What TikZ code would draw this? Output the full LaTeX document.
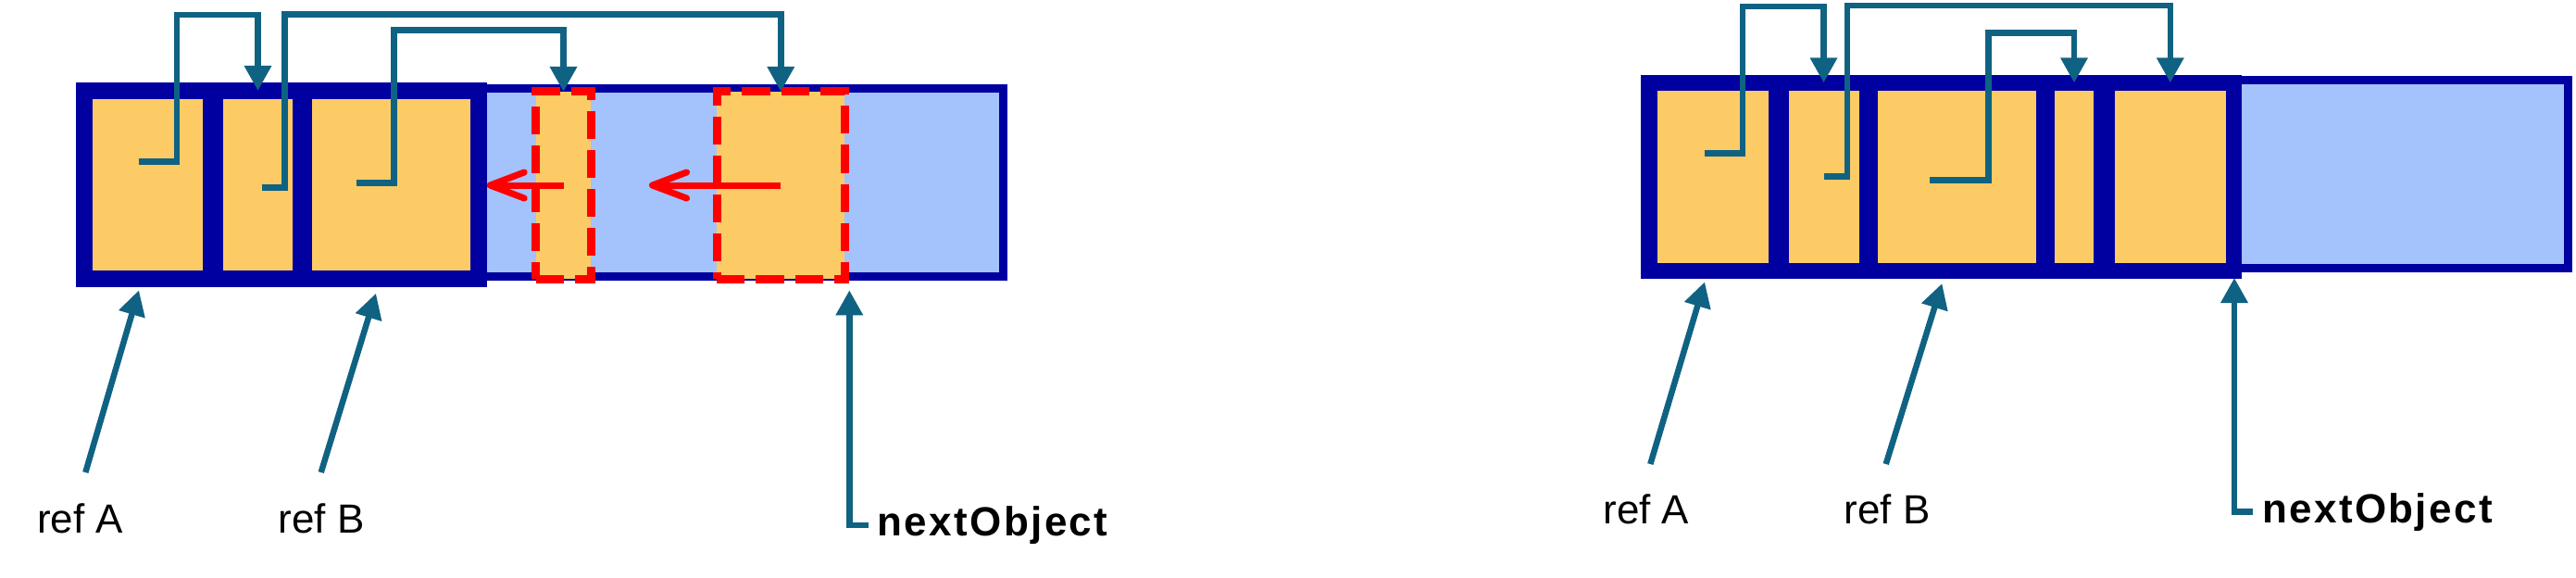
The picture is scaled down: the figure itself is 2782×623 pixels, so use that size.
\documentclass[tikz,border=0pt]{standalone}
\usepackage{fontspec}
\setmainfont{Liberation Sans}
\newfontfamily\nextfont[LetterSpace=5.5]{Liberation Sans}
\usetikzlibrary{arrows.meta,positioning,calc}
\definecolor{objline}{RGB}{0,0,160}
\definecolor{objfill}{RGB}{252,203,102}
\definecolor{heapfill}{RGB}{164,194,252}
\definecolor{refcol}{RGB}{16,98,130}
\tikzset{
  heap/.style={draw=objline,fill=heapfill,line width=0.09cm,minimum width=9.92cm,minimum height=2.035cm,inner sep=0pt,outer sep=0pt},
  obj/.style={draw=objline,fill=objfill,line width=0.175cm,minimum height=2.03cm,inner sep=0pt,outer sep=0pt},
  moved/.style={draw=red,fill=objfill,line width=0.09cm,dash pattern=on 0.3cm off 0.12cm,minimum height=2.02cm,inner sep=0pt,outer sep=0pt},
  refptr/.style={draw=refcol,line width=0.065cm,-{Triangle[length=0.27cm,width=0.28cm]}},
  slide/.style={draw=red,line width=0.07cm,-{Straight Barb[length=0.37cm,width=0.28cm,round]}},
  lbl/.style={anchor=base west,inner sep=0pt,font=\fontsize{12.5pt}{15pt}\selectfont},
  nextlbl/.style={lbl,inner xsep=0.09cm,font=\fontsize{12.5pt}{15pt}\nextfont\bfseries}
}
\begin{document}
\begin{tikzpicture}[x=0.01cm,y=-0.01cm]
  \useasboundingbox (0,0) rectangle (2782,623);
  % before compaction
  \node[heap] (heapL) at (586.75,197) {};
  \node[obj,minimum width=1.37cm] (a1) at (159.5,199.5) {};
  \node[obj,minimum width=0.93cm] (a2) at (278.5,199.5) {};
  \node[obj,minimum width=1.89cm] (a3) at (422.5,199.5) {};
  \node[moved,minimum width=0.59cm] (mvS) at (608.5,200) {};
  \node[moved,minimum width=1.375cm] (mvB) at (843.25,200) {};
  \coordinate (sA1) at (150,174.3);
  \coordinate (sA2) at (282.7,202.3);
  \coordinate (sA3) at (385,197.3);
  \draw[refptr] (sA1) -| (191,16) -| (a2.north);
  \draw[refptr] (sA2) -| (307.3,15.3) -| (mvB.north);
  \draw[refptr] (sA3) -| (425.7,32.3) -| (mvS.north);
  \coordinate (dS) at (525.7,200);
  \coordinate (dB) at (701,200);
  \draw[slide] (mvS.center) -- (dS);
  \draw[slide] (mvB.center) -- (dB);
  \node[lbl] (refA1) at (39.3,575) {ref A};
  \node[lbl] (refB1) at (300,575) {ref B};
  \node[nextlbl] (next1) at (937.7,578.3) {nextObject};
  \coordinate (fA1) at (92.3,510);
  \coordinate (tA1) at (150,313.3);
  \coordinate (fB1) at (346.7,510);
  \coordinate (tB1) at (406,316.7);
  \coordinate (tN1) at (917.3,313.3);
  \draw[refptr] (fA1) -- (tA1);
  \draw[refptr] (fB1) -- (tB1);
  \draw[refptr] (next1.west) -| (tN1);
  % after compaction
  \node[heap] (heapR) at (2277.25,188.15) {};
  \node[obj,minimum width=1.38cm] (b1) at (1850,190.9) {};
  \node[obj,minimum width=0.935cm] (b2) at (1969.5,190.9) {};
  \node[obj,minimum width=1.877cm] (b3) at (2113.4,190.9) {};
  \node[obj,minimum width=0.6cm] (b4) at (2240,190.9) {};
  \node[obj,minimum width=1.368cm] (b5) at (2343.8,190.9) {};
  \coordinate (sB1) at (1841,165.7);
  \coordinate (sB2) at (1970,190.7);
  \coordinate (sB3) at (2084,194.3);
  \draw[refptr] (sB1) -| (1882,7.2) -| (b2.north);
  \draw[refptr] (sB2) -| (1995,6) -| (b5.north);
  \draw[refptr] (sB3) -| (2147.3,35.3) -| (b4.north);
  \node[lbl] (refA2) at (1730.7,565) {ref A};
  \node[lbl] (refB2) at (1991,565) {ref B};
  \node[nextlbl] (next2) at (2433.3,564) {nextObject};
  \coordinate (fA2) at (1782.3,501);
  \coordinate (tA2) at (1841,304.3);
  \coordinate (fB2) at (2036.7,501);
  \coordinate (tB2) at (2097.3,306);
  \coordinate (tN2) at (2413,300);
  \draw[refptr] (fA2) -- (tA2);
  \draw[refptr] (fB2) -- (tB2);
  \draw[refptr] (next2.west) -| (tN2);
\end{tikzpicture}
\end{document}
